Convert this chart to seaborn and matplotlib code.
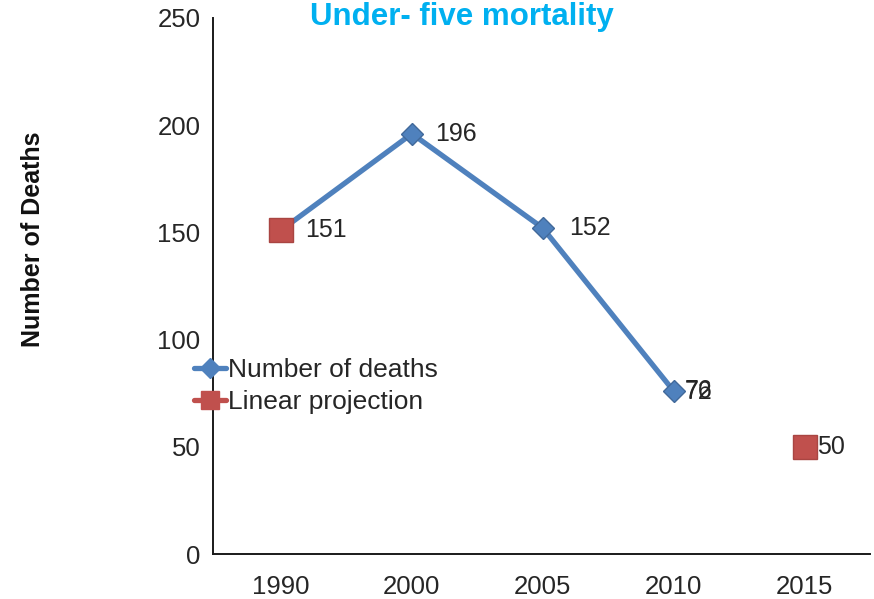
import numpy as np
import matplotlib
matplotlib.use("Agg")
import matplotlib.pyplot as plt
import seaborn as sns
from matplotlib.lines import Line2D

# data
years = ["1990", "2000", "2005", "2010", "2015"]
death_years = ["1990", "2000", "2005", "2010"]
deaths = [151, 196, 152, 76]
proj_years = ["1990", "2015"]
projection = [151, 50]
# the projection value at 2010 only shows as a label on top of the 76
proj_label_year = "2010"
proj_label_value = 72

blue = "#4F81BD"
red = "#C0504D"
text_col = "#262626"

sns.set_theme(style="white")
plt.rcParams["font.family"] = ["Liberation Sans", "DejaVu Sans"]

fig = plt.figure(figsize=(8.74, 5.99), dpi=100)
ax = fig.add_axes([0.2437, 0.0751, 0.7517, 0.895])

sns.pointplot(x=death_years, y=deaths, order=years, color=blue,
              markers="D", markersize=11, linewidth=3.8,
              errorbar=None, ax=ax,
              markeredgecolor="#41699A", markeredgewidth=1)
n_blue = len(ax.lines)
sns.pointplot(x=proj_years, y=projection, order=years, color=red,
              markers="s", markersize=17, linestyle="none",
              errorbar=None, ax=ax,
              markeredgecolor="#A94542", markeredgewidth=1)
# projection squares sit on top of the deaths line
for ln in ax.lines[:n_blue]:
    ln.set_zorder(3)
for ln in ax.lines[n_blue:]:
    ln.set_zorder(5)

# value labels, offsets in points to the right of each marker
pos = {y: i for i, y in enumerate(years)}
dev_off = {"2000": 17, "2005": 19, "2010": 8}
for yr, v in zip(death_years, deaths):
    if yr == "1990":
        continue  # covered by the projection square
    ax.annotate(str(v), (pos[yr], v), xytext=(dev_off[yr], 0),
                textcoords="offset points", va="center", ha="left",
                fontsize=18, color=text_col)
proj_off = {"1990": 17, "2015": 9}
for yr, v in zip(proj_years, projection):
    ax.annotate(str(v), (pos[yr], v), xytext=(proj_off[yr], 0),
                textcoords="offset points", va="center", ha="left",
                fontsize=18, color=text_col)
ax.annotate(str(proj_label_value), (pos[proj_label_year], deaths[-1]),
            xytext=(8, -1), textcoords="offset points", va="center",
            ha="left", fontsize=18, color=text_col)

ax.set_xlim(-0.52, 4.5)
ax.set_ylim(0, 250)
ax.set_yticks(np.arange(0, 251, 50))
ax.tick_params(axis="both", length=0, labelsize=18.5, colors=text_col)
ax.tick_params(axis="x", pad=15)
ax.tick_params(axis="y", pad=9)
for s in ["top", "right"]:
    ax.spines[s].set_visible(False)
for s in ["left", "bottom"]:
    ax.spines[s].set_color("#1a1a1a")
    ax.spines[s].set_linewidth(1.4)
ax.set_xlabel("")
ax.set_ylabel("")

fig.text(0.038, 0.6, "Number of Deaths", rotation=90, ha="center",
         va="center", fontsize=18, fontweight="bold", color="#111111")
fig.text(0.528, 0.972, "Under- five mortality", ha="center", va="center",
         fontsize=22.5, fontweight="bold", color="#00B0F0")

handles = [
    Line2D([], [], color=blue, marker="D", markersize=10, linewidth=3.8),
    Line2D([], [], color=red, marker="s", markersize=13, linewidth=3.8),
]
ax.legend(handles, ["Number of deaths", "Linear projection"],
          loc="upper left", bbox_to_anchor=(0.222, 0.402),
          bbox_transform=fig.transFigure, frameon=False, fontsize=19,
          handlelength=1.2, handletextpad=0.1, borderpad=0,
          borderaxespad=0, labelspacing=0.3, labelcolor=text_col)

fig.savefig("out.png", dpi=100)
